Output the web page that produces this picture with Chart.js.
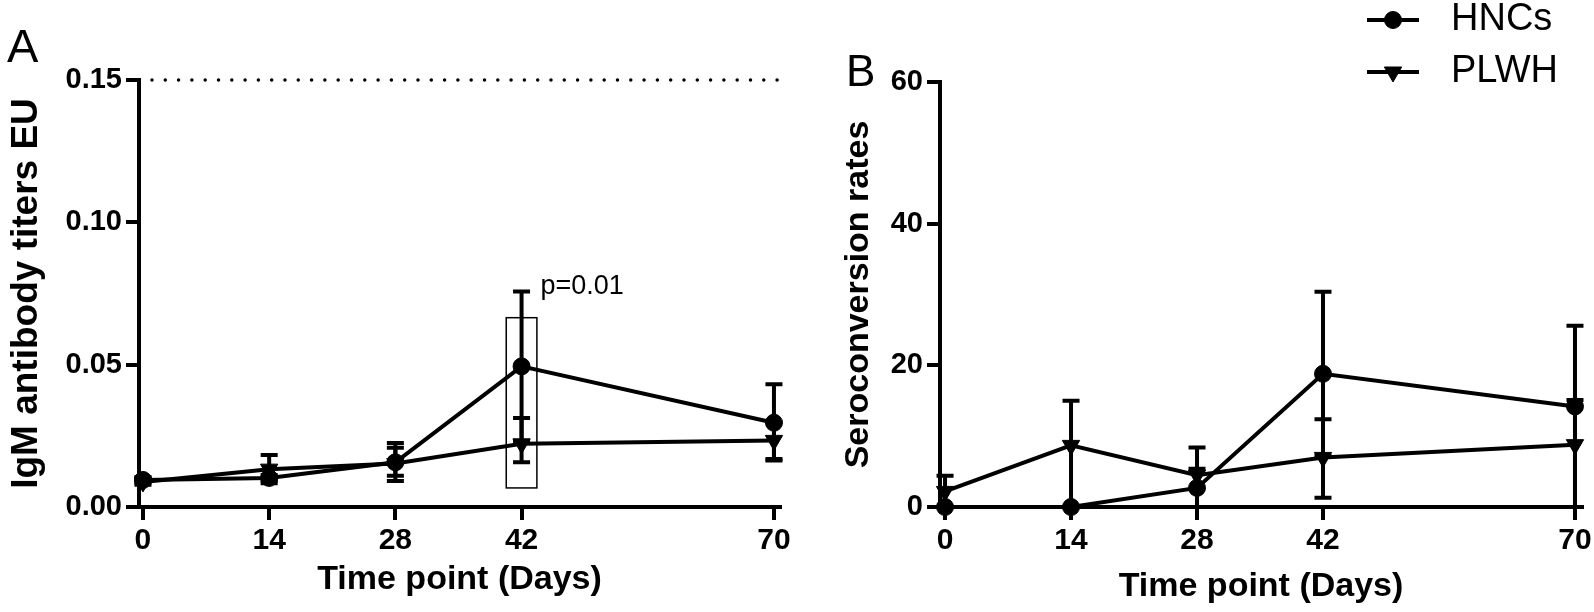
<!DOCTYPE html>
<html>
<head>
<meta charset="utf-8">
<script src="https://cdn.jsdelivr.net/npm/chart.js@4.4.0/dist/chart.umd.min.js"></script>
<style>
  body { margin: 0; background: #fff; }
  canvas { position: absolute; top: 0; }
  #chartA { left: 0; }
  #chartB { left: 800px; }
</style>
</head>
<body>
<canvas id="chartA" width="800" height="612"></canvas>
<canvas id="chartB" width="794" height="612"></canvas>
<script>
// time points (days)
var days = [0, 14, 28, 42, 70];

// A: IgM antibody titers (mean with error bar ends)
var hncA = [0.0095, 0.0102, 0.0157, 0.0494, 0.0296];
var hncAUpper = [0.0105, 0.0112, 0.0225, 0.0757, 0.0431];
var hncALower = [0.0085, 0.0092, 0.0091, 0.0231, 0.0163];
var plwhA = [0.0088, 0.0133, 0.0153, 0.0222, 0.0234];
var plwhAUpper = [0.0098, 0.0183, 0.0208, 0.0313, 0.0299];
var plwhALower = [0.0078, 0.0083, 0.0110, 0.0157, 0.0169];
var cutoffA = 0.15;

// B: seroconversion rates
var hncB = [0, 0, 2.7, 18.8, 14.2];
var hncBUpper = [0, 0, 5.4, 30.4, 25.6];
var hncBLower = [0, 0, 0, 7.2, 0];
var plwhB = [2.2, 8.7, 4.5, 7.0, 8.8];
var plwhBUpper = [4.4, 15.0, 8.4, 12.4, 15.1];
var plwhBLower = [0, 0, 0, 1.3, 0];

// tick labels
var yTicksA = [0, 0.05, 0.10, 0.15];
var yLabelsA = ['0.00', '0.05', '0.10', '0.15'];
var yTicksB = [0, 20, 40, 60];
var yLabelsB = ['0', '20', '40', '60'];

Chart.defaults.font.family = "'Liberation Sans', Arial, Helvetica, sans-serif";
Chart.defaults.color = '#000';

function pts(vals) {
	return days.map(function (d, i) { return { x: d, y: vals[i] }; });
}

function series(label, vals, upper, lower, style) {
	return {
		label: label,
		data: pts(vals),
		upper: upper,
		lower: lower,
		borderColor: '#000',
		backgroundColor: '#000',
		borderWidth: 4,
		tension: 0,
		pointStyle: style,
		pointRotation: style === 'triangle' ? 180 : 0,
		pointRadius: style === 'triangle' ? 10 : 8.5,
		pointBackgroundColor: '#000',
		pointBorderColor: '#000',
		pointBorderWidth: 1,
		clip: false
	};
}

// error bars drawn from the upper/lower arrays through the chart scales
var errorBars = {
	id: 'errorBars',
	beforeDatasetsDraw: function (chart) {
		var ctx = chart.ctx, x = chart.scales.x, y = chart.scales.y;
		ctx.save();
		ctx.strokeStyle = '#000';
		ctx.lineWidth = 4;
		chart.data.datasets.forEach(function (ds) {
			if (!ds.upper) return;
			ds.data.forEach(function (p, i) {
				var px = x.getPixelForValue(p.x);
				var top = y.getPixelForValue(ds.upper[i]);
				var bot = y.getPixelForValue(ds.lower[i]);
				if (Math.abs(bot - top) < 1) return;
				ctx.beginPath();
				ctx.moveTo(px, top); ctx.lineTo(px, bot);
				ctx.moveTo(px - 8.5, top); ctx.lineTo(px + 8.5, top);
				ctx.moveTo(px - 8.5, bot); ctx.lineTo(px + 8.5, bot);
				ctx.stroke();
			});
		});
		ctx.restore();
	}
};

var panelLetter = {
	id: 'panelLetter',
	afterDraw: function (chart, args, opts) {
		var ctx = chart.ctx;
		ctx.save();
		ctx.fillStyle = '#000';
		ctx.font = opts.size + "px 'Liberation Sans', Arial, sans-serif";
		ctx.textBaseline = 'alphabetic';
		ctx.fillText(opts.text, opts.x, opts.y);
		ctx.restore();
	}
};

function xScale(min, max, titlePad) {
	return {
		type: 'linear',
		min: min,
		max: max,
		afterBuildTicks: function (s) { s.ticks = days.map(function (v) { return { value: v }; }); },
		afterFit: function (s) { s.height = 105; s.paddingLeft = 0; s.paddingRight = 0; },
		grid: { drawOnChartArea: false, tickLength: 13, lineWidth: 4, tickWidth: 4, color: '#000' },
		border: { color: '#000', width: 4 },
		ticks: { font: { size: 30, weight: 'bold' }, padding: 3, maxRotation: 0, autoSkip: false },
		title: { display: true, text: 'Time point (Days)', font: { size: 34, weight: 'bold' }, padding: { top: 0, bottom: titlePad } }
	};
}

function yScale(max, tickVals, tickLabels, title, titleSize, titlePad) {
	return {
		min: 0,
		max: max,
		afterBuildTicks: function (s) { s.ticks = tickVals.map(function (v) { return { value: v }; }); },
		afterFit: function (s) { s.width = 139; s.paddingTop = 0; s.paddingBottom = 0; },
		grid: { drawOnChartArea: false, tickLength: 13, lineWidth: 4, tickWidth: 4, color: '#000' },
		border: { color: '#000', width: 4 },
		ticks: {
			font: { size: 29, weight: 'bold' }, padding: 4, autoSkip: false,
			callback: function (v, i) { return tickLabels[i]; }
		},
		title: { display: true, text: title, font: { size: titleSize, weight: 'bold' }, padding: { top: titlePad, bottom: 0 } }
	};
}

// Panel A
var boxA = { x0: 40.3, x1: 43.7, y0: 0.0067, y1: 0.0665 };
var pNote = { text: 'p=0.01', x: 44.1, y: 0.0774 };

var annotA = {
	id: 'annotA',
	afterDraw: function (chart) {
		var ctx = chart.ctx, x = chart.scales.x, y = chart.scales.y;
		ctx.save();
		ctx.strokeStyle = '#000';
		ctx.lineWidth = 1.5;
		var l = x.getPixelForValue(boxA.x0), r = x.getPixelForValue(boxA.x1);
		var t = y.getPixelForValue(boxA.y1), b = y.getPixelForValue(boxA.y0);
		ctx.strokeRect(l, t, r - l, b - t);
		ctx.fillStyle = '#000';
		ctx.font = "27px 'Liberation Sans', Arial, sans-serif";
		ctx.textBaseline = 'middle';
		ctx.fillText(pNote.text, x.getPixelForValue(pNote.x), y.getPixelForValue(pNote.y));
		ctx.restore();
	}
};

new Chart(document.getElementById('chartA'), {
	type: 'line',
	data: {
		datasets: [
			series('HNCs', hncA, hncAUpper, hncALower, 'circle'),
			series('PLWH', plwhA, plwhAUpper, plwhALower, 'triangle'),
			{
				label: 'cutoff',
				data: [{ x: 1, y: cutoffA }, { x: 70.5, y: cutoffA }],
				borderColor: '#000',
				borderWidth: 3.5,
				borderDash: [0, 13.3],
				borderCapStyle: 'round',
				pointRadius: 0,
				clip: false
			}
		]
	},
	options: {
		responsive: false,
		animation: false,
		events: [],
		layout: { padding: { top: 80, right: 20, left: 0, bottom: 0 } },
		plugins: {
			legend: { display: false },
			tooltip: { enabled: false },
			panelLetter: { text: 'A', x: 7, y: 62, size: 47 }
		},
		scales: {
			x: xScale(-0.44, 70.67, 12),
			y: yScale(0.15, yTicksA, yLabelsA, 'IgM antibody titers EU', 37, 5)
		}
	},
	plugins: [errorBars, panelLetter, annotA]
});

// Panel B, with the legend at the top right
var sideLegend = {
	id: 'sideLegend',
	afterDraw: function (chart) {
		var ctx = chart.ctx;
		ctx.save();
		ctx.fillStyle = '#000';
		ctx.strokeStyle = '#000';
		chart.data.datasets.forEach(function (ds, i) {
			var cy = 20 + i * 52;
			ctx.lineWidth = 4;
			ctx.beginPath();
			ctx.moveTo(567, cy); ctx.lineTo(619, cy);
			ctx.stroke();
			ctx.lineWidth = 1;
			Chart.helpers.drawPoint(ctx, {
				pointStyle: ds.pointStyle, rotation: ds.pointRotation,
				radius: ds.pointRadius, borderWidth: 1
			}, 593, cy);
			ctx.font = "38px 'Liberation Sans', Arial, sans-serif";
			ctx.textBaseline = 'middle';
			ctx.fillText(ds.label, 651, cy);
		});
		ctx.restore();
	}
};

new Chart(document.getElementById('chartB'), {
	type: 'line',
	data: {
		datasets: [
			series('HNCs', hncB, hncBUpper, hncBLower, 'circle'),
			series('PLWH', plwhB, plwhBUpper, plwhBLower, 'triangle')
		]
	},
	options: {
		responsive: false,
		animation: false,
		events: [],
		layout: { padding: { top: 82, right: 12, left: 1, bottom: 0 } },
		plugins: {
			legend: { display: false },
			tooltip: { enabled: false },
			panelLetter: { text: 'B', x: 46, y: 86, size: 44 }
		},
		scales: {
			x: xScale(-0.56, 70.78, 5),
			y: yScale(60, yTicksB, yLabelsB, 'Seroconversion rates', 34, 37)
		}
	},
	plugins: [errorBars, panelLetter, sideLegend]
});
</script>
</body>
</html>
